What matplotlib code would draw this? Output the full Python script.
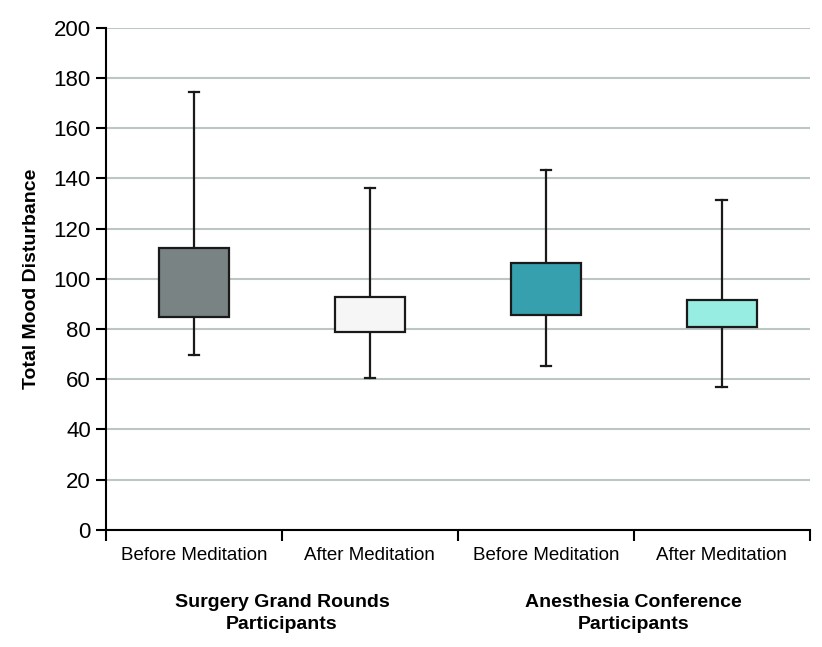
import matplotlib as mpl
mpl.use('Agg')
import matplotlib.pyplot as plt

mpl.rcParams['font.family'] = ['Liberation Sans', 'DejaVu Sans']

# Box plot summary values
labels = ['Before Meditation', 'After Meditation', 'Before Meditation', 'After Meditation']
whislo = [69.8, 60.7, 65.2, 56.9]
q1 = [84.7, 79.0, 85.8, 80.8]
med = [99.1, 87.0, 91.1, 86.9]
q3 = [112.1, 92.7, 106.2, 91.4]
whishi = [174.6, 136.3, 143.5, 131.4]
colors = ['#798383', '#f6f6f6', '#37a0ae', '#98ede3']
groups = ['Surgery Grand Rounds\nParticipants', 'Anesthesia Conference\nParticipants']

fig = plt.figure(figsize=(8.22, 6.47), dpi=100)
ax = fig.add_axes([0.129, 0.181, 0.856, 0.776])

stats = []
for i in range(len(labels)):
    stats.append({'whislo': whislo[i], 'q1': q1[i], 'med': med[i],
                  'q3': q3[i], 'whishi': whishi[i], 'fliers': []})

pos = list(range(1, len(labels) + 1))
bp = ax.bxp(stats, positions=pos, widths=0.4, patch_artist=True, showfliers=False,
            capwidths=0.06,
            boxprops=dict(edgecolor='#1a1a1a', linewidth=1.6),
            medianprops=dict(color='#1a1a1a', linewidth=1.6),
            whiskerprops=dict(color='#1a1a1a', linewidth=1.6),
            capprops=dict(color='#1a1a1a', linewidth=1.6))
for patch, c in zip(bp['boxes'], colors):
    patch.set_facecolor(c)
    patch.set_zorder(3)

ax.set_xlim(0.5, len(labels) + 0.5)
ax.set_ylim(0, 200)
ax.set_yticks(range(0, 201, 20))
ax.tick_params(axis='y', labelsize=16, length=7, width=1.5, direction='out', pad=4)

# x ticks sit at category boundaries, labels at centres
ax.set_xticks([p - 0.5 for p in pos] + [len(labels) + 0.5])
ax.set_xticklabels([])
ax.set_xticks(pos, minor=True)
ax.set_xticklabels(labels, minor=True)
ax.tick_params(axis='x', which='major', length=8, width=1.5)
ax.tick_params(axis='x', which='minor', length=0, labelsize=13.5, pad=12)

ax.grid(axis='y', color='#bcc6c2', linewidth=1.5, zorder=0)
ax.set_axisbelow(True)
for s in ['top', 'right']:
    ax.spines[s].set_visible(False)
for s in ['left', 'bottom']:
    ax.spines[s].set_linewidth(1.5)
    ax.spines[s].set_zorder(4)

ax.set_ylabel('Total Mood Disturbance', fontsize=14, fontweight='bold', labelpad=10)

ax.text(1.5, -0.128, groups[0], transform=ax.get_xaxis_transform(), ha='center', va='top',
        fontsize=14, fontweight='bold', linespacing=1.4)
ax.text(3.5, -0.128, groups[1], transform=ax.get_xaxis_transform(), ha='center', va='top',
        fontsize=14, fontweight='bold', linespacing=1.4)

plt.savefig('out.png', dpi=100)
